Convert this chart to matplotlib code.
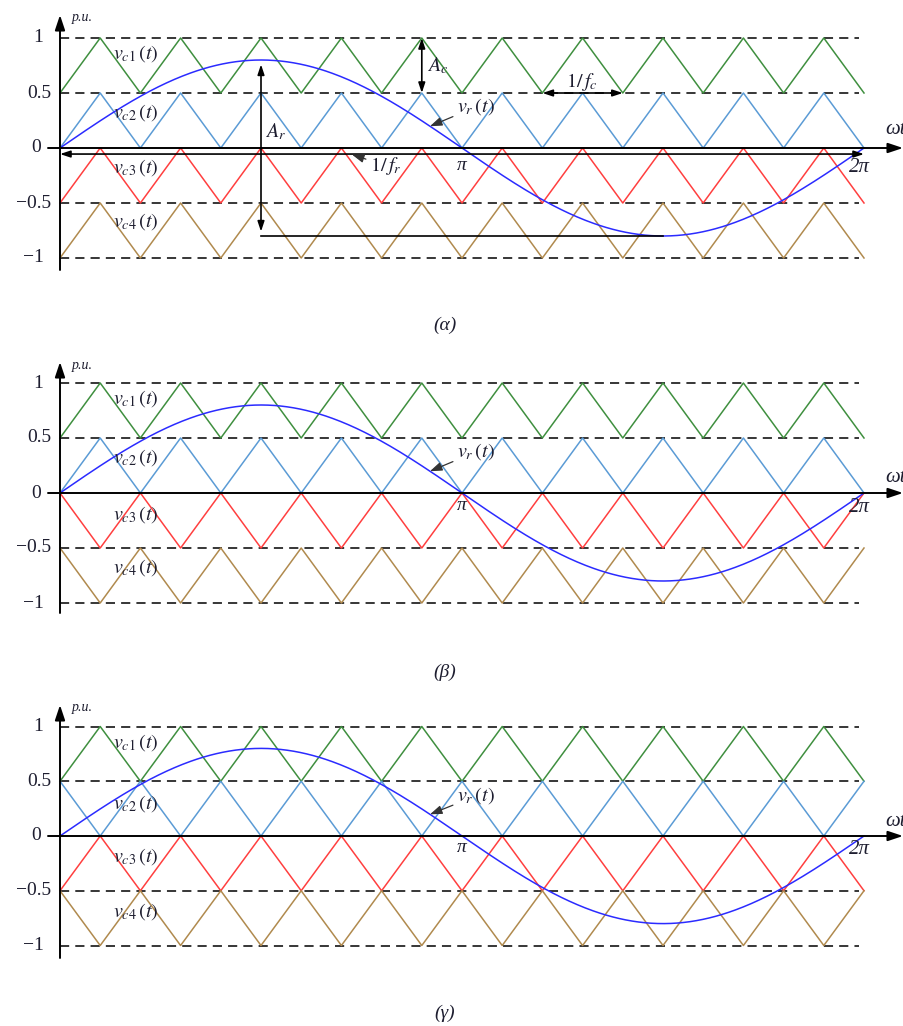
import numpy as np
import matplotlib
matplotlib.use("Agg")
import matplotlib.pyplot as plt

plt.rcParams['mathtext.fontset'] = 'stix'
plt.rcParams['font.family'] = ['Liberation Serif', 'DejaVu Serif']

# ---------------- data ----------------
carrier_bottoms = [0.5, 0.0, -0.5, -1.0]       # lower level of each carrier band
carrier_height = 0.5
carrier_colors = ['#3f8f3f', '#5b9bd5', '#ff3f3f', '#b08a4e']
carrier_names = [r'$v_{c1}\,(t)$', r'$v_{c2}\,(t)$', r'$v_{c3}\,(t)$', r'$v_{c4}\,(t)$']
pd_start_high = [0, 0, 0, 0]     # (α) phase disposition
pod_start_high = [0, 0, 1, 1]    # (β) phase opposition disposition
apod_start_high = [0, 1, 0, 1]   # (γ) alternate phase opposition disposition
carriers_per_cycle = 10
ref_amplitude = 0.8
dash_levels = [1.0, 0.5, -0.5, -1.0]
tick_values = [1, 0.5, 0, -0.5, -1]
tick_labels = ['1', '0.5', '0', '\u22120.5', '\u22121']
captions = ['(\u03b1)', '(\u03b2)', '(\u03b3)']

# ---------------- layout (pixels) ----------------
W, H = 904, 1026
X0_PX, XSCALE = 60.0, 804.0 / (2 * np.pi)
panel_zero_px = [148, 493, 836]
panel_scale_px = [110, 110, 109.5]
caption_y_px = [325, 672, 1013]
vlabel_y = [[0.86, 0.32, -0.18, -0.67], [0.86, 0.32, -0.2, -0.68], [0.85, 0.30, -0.19, -0.69]]
schemes = [pd_start_high, pod_start_high, apod_start_high]

fig = plt.figure(figsize=(W / 100, H / 100), dpi=100)

def px2x(px):
    return (px - X0_PX) / XSCALE

text_col = '#1e1e30'

for p in range(3):
    zero, sc = panel_zero_px[p], panel_scale_px[p]
    ax = fig.add_axes([0, 0, 1, 1])
    ax.set_xlim(px2x(0), px2x(W))
    ax.set_ylim((zero - H) / sc, zero / sc)
    ax.axis('off')
    ax.patch.set_alpha(0)

    # dashed levels
    for lv in dash_levels:
        ax.plot([0, px2x(859)], [lv, lv], color='black', lw=1.1, ls=(0, (6, 4)), zorder=1)

    # carriers
    n = 2 * carriers_per_cycle
    k = np.arange(n + 1)
    tk = k * np.pi / carriers_per_cycle
    for i in range(4):
        start = schemes[p][i]
        vals = carrier_bottoms[i] + carrier_height * ((k + start) % 2)
        ax.plot(tk, vals, color=carrier_colors[i], lw=1.1, zorder=2)
        ax.text(px2x(113), vlabel_y[p][i], carrier_names[i], fontsize=14.5,
                color=text_col, ha='left', va='center', zorder=5)

    # reference sine
    t = np.linspace(0, 2 * np.pi, 500)
    ax.plot(t, ref_amplitude * np.sin(t), color='#2b2bff', lw=1.1, zorder=3)

    # axes arrows
    tip_px = [15, 362, 705][p]
    bot_px = [270, 613, 958][p]
    ax.annotate('', xy=(0, (zero - tip_px) / sc), xytext=(0, (zero - bot_px) / sc),
                arrowprops=dict(arrowstyle='-|>,head_length=0.9,head_width=0.3',
                                color='black', lw=1.4, shrinkA=0, shrinkB=0), zorder=6)
    ax.annotate('', xy=(px2x(903), 0), xytext=(px2x(48), 0),
                arrowprops=dict(arrowstyle='-|>,head_length=0.9,head_width=0.3',
                                color='black', lw=1.4, shrinkA=0, shrinkB=0), zorder=6)

    # tick labels
    right_px = {1: 43, 0.5: 51, 0: 41, -0.5: 51, -1: 44}
    for v, lab in zip(tick_values, tick_labels):
        ax.text(px2x(right_px[v]), v, lab, fontsize=14, ha='right', va='center', color=text_col)

    # p.u. / ωt / π / 2π
    ax.text(px2x(72), (zero - [17, 365, 708][p]) / sc, 'p.u.', fontsize=10, style='italic',
            ha='left', va='center', color=text_col)
    ax.text(px2x(885), (zero - [130, 477, 822][p]) / sc, '\u03c9t', fontsize=15, style='italic',
            ha='left', va='center', color=text_col)
    ax.text(np.pi, (zero - [165, 505, 847][p]) / sc, '\u03c0', fontsize=14, style='italic',
            ha='center', va='center', color=text_col)
    ax.text(px2x(849), (zero - [167, 507, 850][p]) / sc, '2\u03c0', fontsize=15, style='italic',
            ha='left', va='center', color=text_col)

    # v_r label with arrow
    vr_y = (zero - [107, 452, 796][p]) / sc
    ax.annotate(r'$v_r\,(t)$', xy=(px2x(430), ref_amplitude * np.sin(px2x(430))),
                xytext=(px2x(457), vr_y), fontsize=14.5, color=text_col, ha='left', va='center',
                arrowprops=dict(arrowstyle='-|>,head_length=0.5,head_width=0.18',
                                color='#333333', lw=0.9, shrinkA=1, shrinkB=0), zorder=6)

    fig.text(445 / W, 1 - caption_y_px[p] / H, captions[p], fontsize=14, style='italic',
             ha='center', va='center', color=text_col)

    if p == 0:
        dbl = dict(arrowstyle='<|-|>,head_length=0.6,head_width=0.2', color='black', lw=1.2,
                   shrinkA=0, shrinkB=0)
        # A_c
        xc = 9 * np.pi / carriers_per_cycle
        ax.annotate('', xy=(xc, 1.0), xytext=(xc, 0.5), arrowprops=dbl, zorder=6)
        ax.text(px2x(427), 0.75, r'$A_c$', fontsize=14.5, ha='left', va='center', color=text_col)
        # A_r
        ax.annotate('', xy=(np.pi / 2, 0.76), xytext=(np.pi / 2, -0.76), arrowprops=dbl, zorder=6)
        ax.plot([np.pi / 2, 3 * np.pi / 2], [-0.8, -0.8], color='black', lw=1.2, zorder=6)
        ax.text(px2x(265), 0.15, r'$A_r$', fontsize=14.5, ha='left', va='center', color=text_col)
        # 1/f_c
        ax.annotate('', xy=(12 * np.pi / 10, 0.5), xytext=(14 * np.pi / 10, 0.5),
                    arrowprops=dbl, zorder=6)
        ax.text(px2x(566), 0.6, r'$1/\,f_c$', fontsize=14.5, ha='left', va='center', color=text_col)
        # 1/f_r
        ax.annotate('', xy=(0, -0.055), xytext=(2 * np.pi, -0.055), arrowprops=dbl, zorder=6)
        ax.annotate(r'$1/\,f_r$', xy=(px2x(352), -0.06), xytext=(px2x(370), -0.16),
                    fontsize=14.5, color=text_col, ha='left', va='center',
                    arrowprops=dict(arrowstyle='-|>,head_length=0.5,head_width=0.18',
                                    color='#333333', lw=0.9, shrinkA=1, shrinkB=0), zorder=6)

fig.savefig('out.png', dpi=100)
